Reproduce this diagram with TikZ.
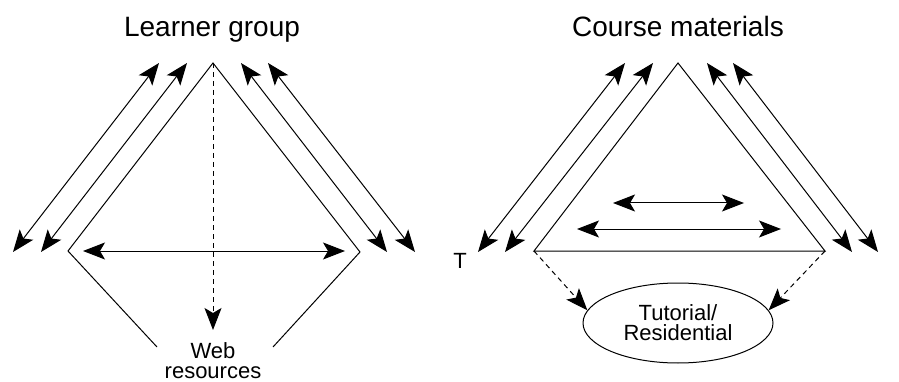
\documentclass[tikz,border=0pt]{standalone}
\usepackage{fontspec}
\setmainfont{Liberation Sans}
\usetikzlibrary{arrows.meta,shapes.geometric}
\begin{document}
\begin{tikzpicture}[x=1pt,y=-1pt,
  head/.tip={Stealth[length=22pt,width=17pt,inset=5pt]},
  edge/.style={line width=1pt},
  dbl/.style={line width=1pt,head-head},
  dashedarrow/.style={line width=1pt,dash pattern=on 5pt off 4pt,-head},
  title/.style={font=\fontsize{28}{30}\selectfont,anchor=base,inner sep=0pt},
  label/.style={font=\fontsize{22}{20}\selectfont,align=center,inner sep=0pt}
]
\useasboundingbox (0,0) rectangle (899,382);

% ---- Learner group ----
\node[title] (lg) at (212,37) {Learner group};
\coordinate (A1) at (213,63);
\coordinate (L1) at (68,251);
\coordinate (R1) at (360,252);
\coordinate (B1l) at (157,347);
\coordinate (B1r) at (273,347);
\draw[edge] (B1l) -- (L1) -- (A1) -- (R1) -- (B1r);

% links along the left and right sides
\coordinate (p1a) at (13,252);  \coordinate (p1b) at (159,63);
\coordinate (p2a) at (41,252);  \coordinate (p2b) at (187,63);
\coordinate (p3a) at (241,63);  \coordinate (p3b) at (387,252);
\coordinate (p4a) at (268,63);  \coordinate (p4b) at (415,252);
\draw[dbl] (p1a) -- (p1b);
\draw[dbl] (p2a) -- (p2b);
\draw[dbl] (p3a) -- (p3b);
\draw[dbl] (p4a) -- (p4b);

% across the group
\coordinate (h1a) at (83,251);
\coordinate (h1b) at (345,251);
\draw[dbl] (h1a) -- (h1b);

% down to web resources
\node[label] (web) at (213,361) {Web\\resources};
\coordinate (w1) at (213,330);
\draw[dashedarrow] (A1) -- (w1);

% ---- Course materials ----
\node[title] (cm) at (678,37) {Course materials};
\coordinate (A2) at (678,63);
\coordinate (L2) at (534,251);
\coordinate (R2) at (825,251);
\draw[edge] (A2) -- (L2) -- (R2) -- cycle;

\coordinate (q1a) at (478,252);  \coordinate (q1b) at (625,63);
\coordinate (q2a) at (505,252);  \coordinate (q2b) at (653,63);
\coordinate (q3a) at (707,63);   \coordinate (q3b) at (852,252);
\coordinate (q4a) at (733,63);   \coordinate (q4b) at (878,252);
\draw[dbl] (q1a) -- (q1b);
\draw[dbl] (q2a) -- (q2b);
\draw[dbl] (q3a) -- (q3b);
\draw[dbl] (q4a) -- (q4b);

% inside the materials triangle
\coordinate (i1a) at (613,203); \coordinate (i1b) at (744,203);
\coordinate (i2a) at (577,229); \coordinate (i2b) at (781,229);
\draw[dbl] (i1a) -- (i1b);
\draw[dbl] (i2a) -- (i2b);

\node[label,anchor=base] (T) at (460,268) {T};

% tutorial / residential
\node[ellipse,draw,line width=1pt,minimum width=190pt,minimum height=80pt,
      label,inner sep=0pt] (tut) at (678,323) {Tutorial/\\Residential};
\draw[dashedarrow] (L2) -- (tut.172);
\draw[dashedarrow] (R2) -- (tut.8);
\end{tikzpicture}
\end{document}
